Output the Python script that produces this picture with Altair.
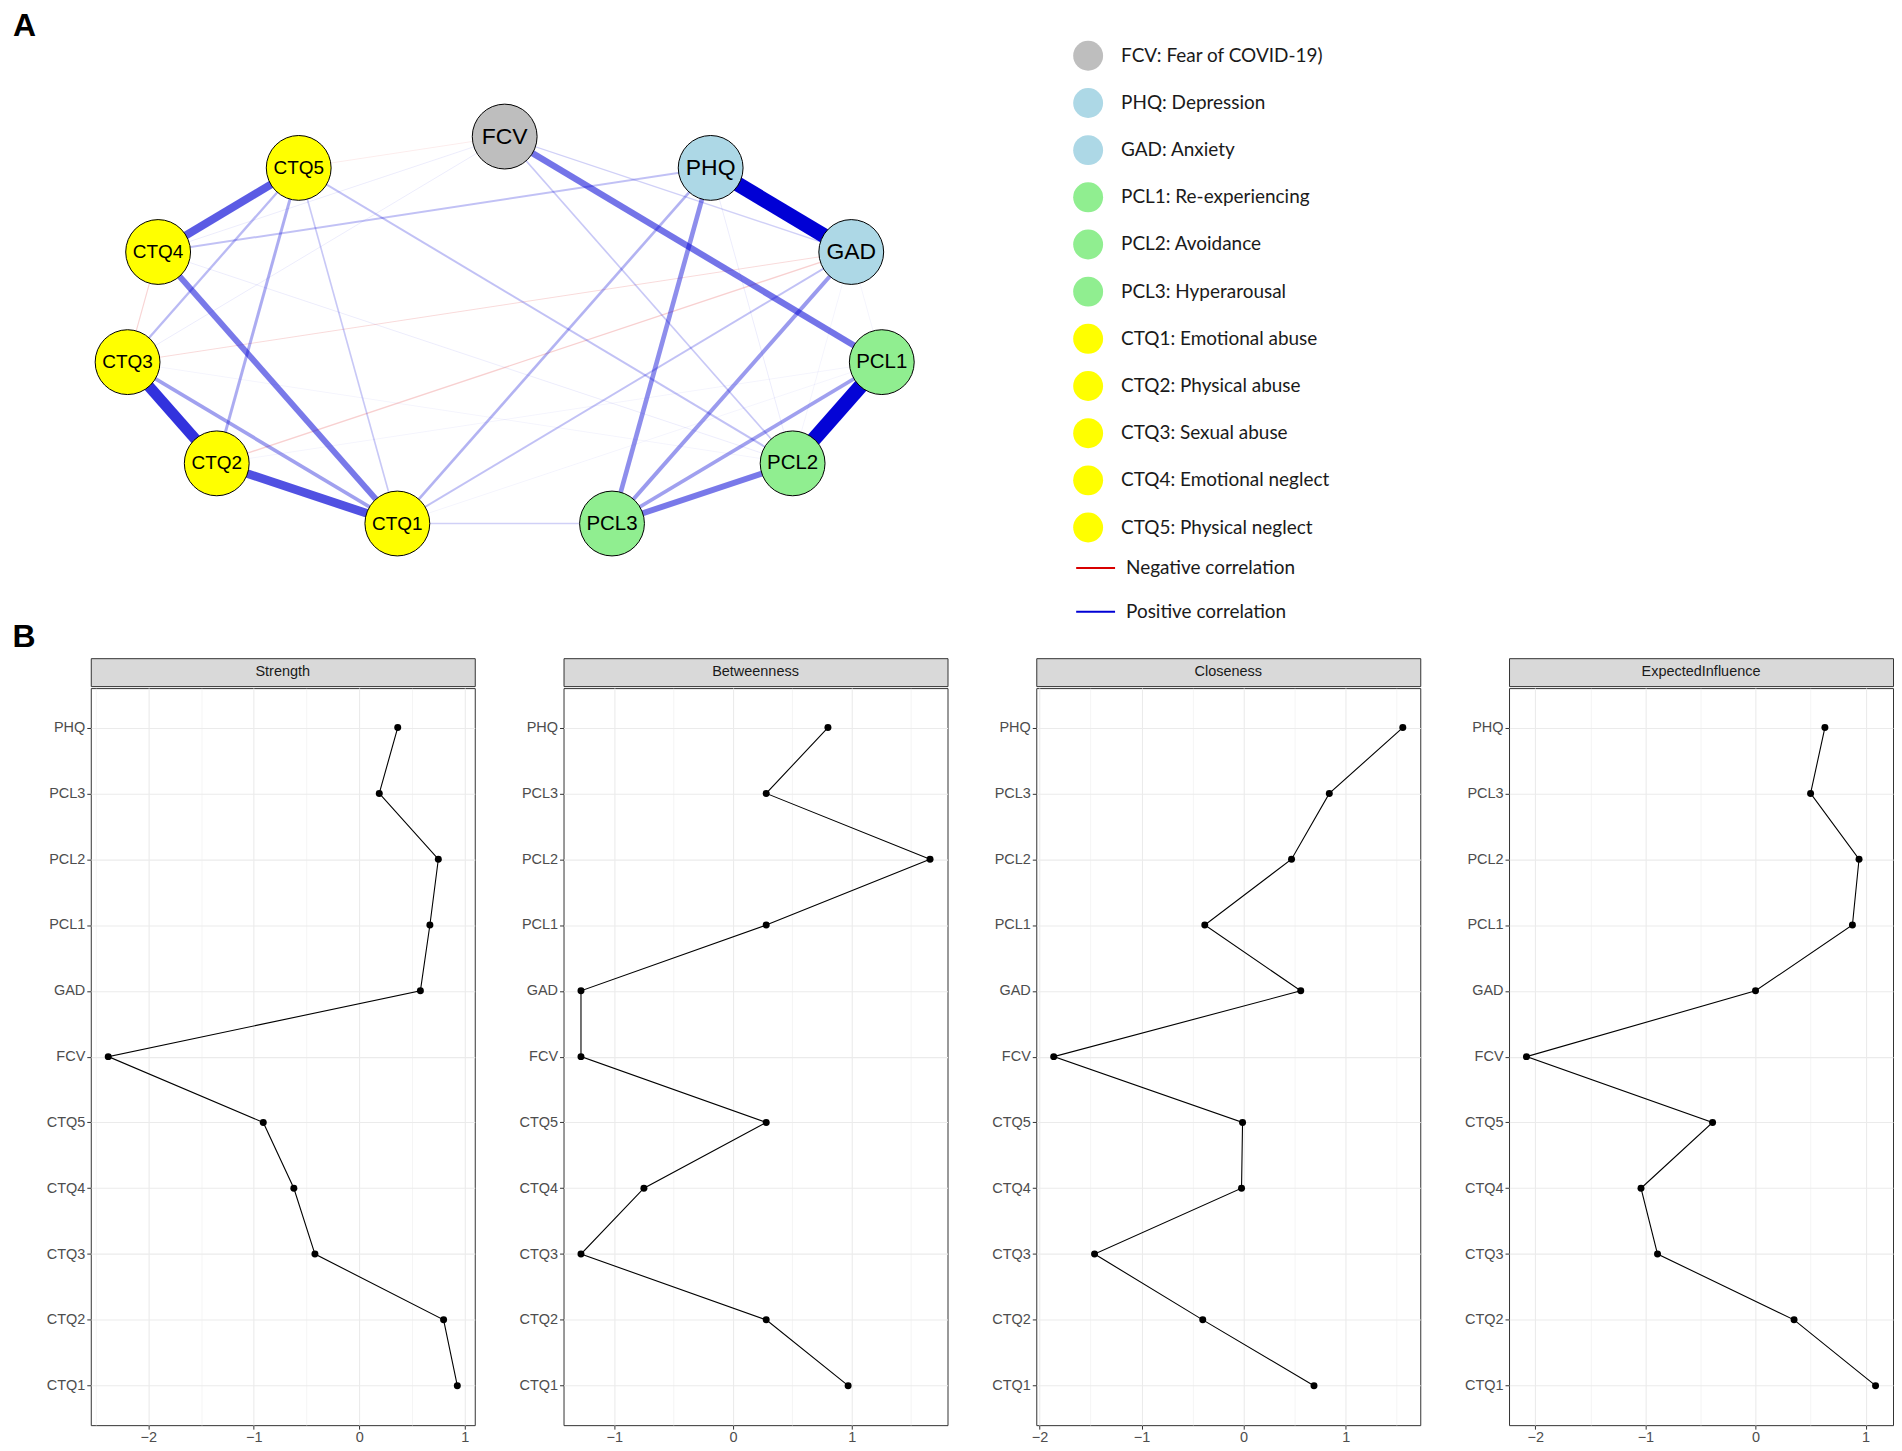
import math
import altair as alt
import pandas as pd

# ---------------- data ----------------
node_ids = ["FCV", "PHQ", "GAD", "PCL1", "PCL2", "PCL3", "CTQ1", "CTQ2", "CTQ3", "CTQ4", "CTQ5"]
node_desc = ["FCV: Fear of COVID-19)", "PHQ: Depression", "GAD: Anxiety",
             "PCL1: Re-experiencing", "PCL2: Avoidance", "PCL3: Hyperarousal",
             "CTQ1: Emotional abuse", "CTQ2: Physical abuse", "CTQ3: Sexual abuse",
             "CTQ4: Emotional neglect", "CTQ5: Physical neglect"]
node_colors = ["#BEBEBE", "#ADD8E6", "#ADD8E6", "#90EE90", "#90EE90", "#90EE90",
               "#FFFF00", "#FFFF00", "#FFFF00", "#FFFF00", "#FFFF00"]

edge_from = ["PHQ", "PCL1", "CTQ3", "CTQ2", "CTQ5", "FCV", "CTQ4", "PCL2", "PHQ", "GAD",
             "PCL1", "CTQ3", "CTQ5", "PHQ", "CTQ5", "GAD", "CTQ4", "CTQ5", "FCV", "CTQ5",
             "FCV", "CTQ1", "CTQ4", "GAD", "GAD", "FCV", "FCV", "FCV", "PHQ", "CTQ4",
             "CTQ3", "CTQ2", "GAD", "GAD", "CTQ1"]
edge_to = ["GAD", "PCL2", "CTQ2", "CTQ1", "CTQ4", "PCL1", "CTQ1", "PCL3", "PCL3", "PCL3",
           "PCL3", "CTQ1", "CTQ2", "CTQ1", "CTQ3", "CTQ1", "PHQ", "PCL2", "PCL2", "CTQ1",
           "GAD", "PCL3", "CTQ3", "CTQ2", "CTQ3", "CTQ5", "CTQ4", "CTQ3", "PCL2", "PCL2",
           "PCL2", "PCL1", "PCL2", "PCL1", "PCL1"]
edge_weight = [0.45, 0.44, 0.33, 0.26, 0.24, 0.19, 0.18, 0.18, 0.14, 0.12,
               0.11, 0.11, 0.09, 0.08, 0.07, 0.06, 0.06, 0.06, 0.05, 0.05,
               0.04, 0.04, -0.035, -0.04, -0.03, -0.02, 0.02, 0.02, 0.02, 0.02,
               0.015, 0.015, 0.015, 0.015, 0.015]

cent_nodes = ["CTQ1", "CTQ2", "CTQ3", "CTQ4", "CTQ5", "FCV", "GAD", "PCL1", "PCL2", "PCL3", "PHQ"]
measures = ["Strength", "Betweenness", "Closeness", "ExpectedInfluence"]
strength = [0.93, 0.80, -0.42, -0.62, -0.91, -2.38, 0.58, 0.67, 0.75, 0.19, 0.365]
betweenness = [0.97, 0.28, -1.28, -0.75, 0.28, -1.28, -1.28, 0.28, 1.66, 0.28, 0.80]
closeness = [0.69, -0.40, -1.46, -0.02, -0.01, -1.86, 0.56, -0.38, 0.47, 0.84, 1.56]
expected_influence = [1.09, 0.35, -0.89, -1.04, -0.39, -2.08, 0.00, 0.88, 0.94, 0.50, 0.63]

# ---------------- panel A : network ----------------
n = len(node_ids)
ux = {nid: math.sin(2 * math.pi * k / n) for k, nid in enumerate(node_ids)}
uy = {nid: math.cos(2 * math.pi * k / n) for k, nid in enumerate(node_ids)}


def label_size(lbl):
    if lbl.startswith("CTQ"):
        return 19
    if lbl.startswith("PCL"):
        return 20.5
    return 23


nodes_df = pd.DataFrame({
    "id": node_ids,
    "desc": node_desc,
    "x": [ux[i] for i in node_ids],
    "y": [uy[i] for i in node_ids],
    "fs": [label_size(i) for i in node_ids],
})

edges = sorted(zip(edge_from, edge_to, edge_weight), key=lambda e: abs(e[2]))
edges_df = pd.DataFrame({
    "x": [ux[a] for a, b, w in edges],
    "y": [uy[a] for a, b, w in edges],
    "x2": [ux[b] for a, b, w in edges],
    "y2": [uy[b] for a, b, w in edges],
    "w": [abs(w) for a, b, w in edges],
    "sign": ["Positive correlation" if w > 0 else "Negative correlation" for a, b, w in edges],
})

NET_W, NET_H = 920, 575
PLOT_TOP = 44
x_dom = [-415 / 382.0, (NET_W - 415) / 382.0]
y_max = 1 + (134 - PLOT_TOP) / 198.0
y_dom = [y_max - NET_H / 198.0, y_max]
xs = alt.Scale(domain=x_dom, nice=False, zero=False)
ys = alt.Scale(domain=y_dom, nice=False, zero=False)
wmax = max(abs(w) for w in edge_weight)

edge_layer = alt.Chart(edges_df).mark_rule(strokeCap="butt").encode(
    x=alt.X("x:Q", scale=xs, axis=None),
    y=alt.Y("y:Q", scale=ys, axis=None),
    x2="x2:Q",
    y2="y2:Q",
    stroke=alt.Stroke(
        "sign:N",
        scale=alt.Scale(domain=["Negative correlation", "Positive correlation"],
                        range=["#D80000", "#0000D5"]),
        legend=alt.Legend(title=None, orient="none", legendX=987, legendY=502,
                          symbolType="stroke", symbolSize=1521, symbolStrokeWidth=2,
                          labelFont="Lato", labelFontSize=19, labelColor="#1A1A1A",
                          labelLimit=500, rowPadding=13, labelOffset=10, padding=0),
    ),
    strokeWidth=alt.StrokeWidth("w:Q", scale=alt.Scale(domain=[0, wmax], range=[0, 15]), legend=None),
    opacity=alt.Opacity("w:Q", scale=alt.Scale(type="pow", exponent=0.7, domain=[0, wmax], range=[0, 1]),
                        legend=None),
)

node_layer = alt.Chart(nodes_df).mark_circle(size=4225, stroke="black", strokeWidth=1, opacity=1).encode(
    x=alt.X("x:Q", scale=xs, axis=None),
    y=alt.Y("y:Q", scale=ys, axis=None),
    fill=alt.Fill(
        "desc:N",
        scale=alt.Scale(domain=node_desc, range=node_colors),
        sort=node_desc,
        legend=alt.Legend(title=None, orient="none", legendX=985, legendY=-6,
                          symbolType="circle", symbolSize=900, symbolStrokeWidth=0,
                          symbolOpacity=1, labelFont="Lato", labelFontSize=19,
                          labelColor="#1A1A1A", labelLimit=500, rowPadding=17.3,
                          labelOffset=18, padding=0),
    ),
)

text_layer = alt.Chart(nodes_df).mark_text(font="Liberation Sans", color="black", baseline="middle").encode(
    x=alt.X("x:Q", scale=xs, axis=None),
    y=alt.Y("y:Q", scale=ys, axis=None),
    text="id:N",
    size=alt.Size("fs:Q", scale=None, legend=None),
)

network = alt.layer(edge_layer, node_layer, text_layer).properties(
    width=NET_W, height=NET_H,
    title=alt.TitleParams("A", anchor="start", font="Liberation Sans", fontSize=32,
                          fontWeight="bold", color="black", dx=-78, offset=4),
)

# ---------------- panel B : centrality ----------------
PW, PH = 385, 739
top_to_bottom = list(reversed(cent_nodes))
minor_test = "datum.value % 1 != 0"


def panel(name, values, ext):
    df = pd.DataFrame({"node": cent_nodes, "value": values, "idx": list(range(len(cent_nodes)))})
    lo, hi = min(values), max(values)
    pad = 0.05 * (hi - lo)
    dom = [lo - pad, hi + pad]
    ticks = [k / 2 for k in range(math.ceil(dom[0] * 2), math.floor(dom[1] * 2) + 1)]
    x_axis = alt.Axis(
        title=None, values=ticks, grid=True, gridColor="#EBEBEB",
        gridWidth={"condition": {"test": minor_test, "value": 0.55}, "value": 1.1},
        tickOpacity={"condition": {"test": minor_test, "value": 0}, "value": 1},
        labelExpr="datum.value % 1 != 0 ? '' : format(datum.value, 'd')",
        domain=False, tickColor="#333333", tickSize=4, labelPadding=1,
        labelColor="#4D4D4D", labelFont="Liberation Sans", labelFontSize=14.5,
    )
    y_axis = alt.Axis(
        title=None, grid=True, gridColor="#EBEBEB", gridWidth=1.1, domain=False,
        tickColor="#333333", tickSize=4, labelPadding=2, labelColor="#4D4D4D",
        labelFont="Liberation Sans", labelFontSize=14.5, minExtent=ext, maxExtent=ext,
    )
    plot = alt.Chart(df).mark_line(
        color="black", strokeWidth=1.1,
        point=alt.OverlayMarkDef(filled=True, color="black", size=49, opacity=1),
    ).encode(
        x=alt.X("value:Q", scale=alt.Scale(domain=dom, nice=False, zero=False), axis=x_axis),
        y=alt.Y("node:N", sort=top_to_bottom, scale=alt.Scale(type="point", padding=0.6), axis=y_axis),
        order=alt.Order("idx:Q"),
    ).properties(width=PW, height=PH, view=alt.ViewBackground(stroke="#333333", strokeWidth=1))

    strip = alt.Chart(pd.DataFrame({"m": [name]})).mark_text(
        font="Liberation Sans", fontSize=14.5, color="#1A1A1A"
    ).encode(text="m:N").properties(
        width=PW, height=28,
        view=alt.ViewBackground(fill="#D9D9D9", stroke="#333333", strokeWidth=1),
    )
    return alt.vconcat(strip, plot, spacing=0)


series = [strength, betweenness, closeness, expected_influence]
panels = [panel(m, v, 82 if i == 0 else 50) for i, (m, v) in enumerate(zip(measures, series))]
bottom = alt.hconcat(*panels, spacing=37).properties(
    title=alt.TitleParams("B", anchor="start", font="Liberation Sans", fontSize=32,
                          fontWeight="bold", color="black", dx=4, offset=4),
)

chart = alt.vconcat(network, bottom, spacing=0).properties(padding=0).configure_view(stroke=None)
chart.save("out.html", embed_options={"renderer": "svg", "actions": False})
